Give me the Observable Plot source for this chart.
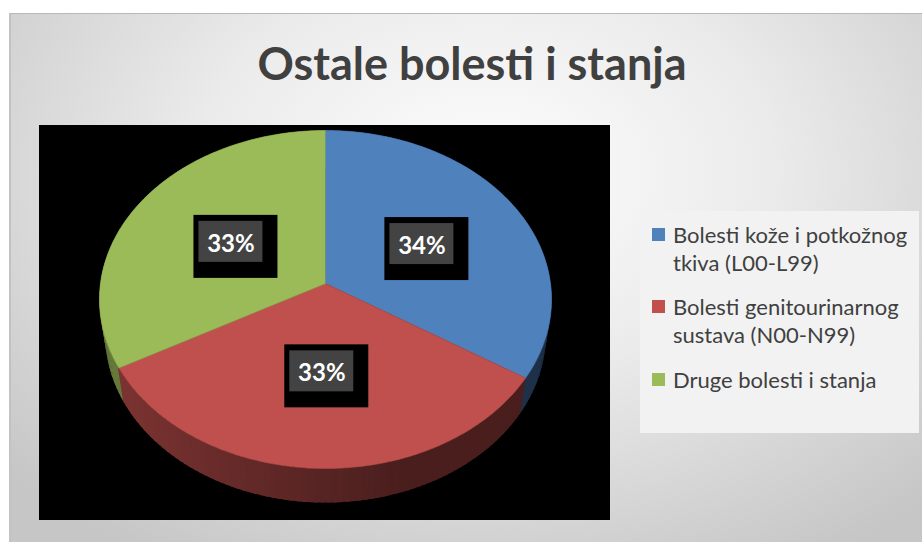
<!DOCTYPE html>
<html>
<head>
<meta charset="utf-8">
<script src="https://cdn.jsdelivr.net/npm/d3@7"></script>
<script src="https://cdn.jsdelivr.net/npm/@observablehq/plot@0.6"></script>
<style>
  html, body { margin: 0; padding: 0; width: 922px; height: 542px; overflow: hidden; background: #ffffff; font-family: Lato, "Open Sans", sans-serif; }
  #panel { position: absolute; left: 9px; top: 13px; width: 913px; height: 529px; box-sizing: border-box;
    background: radial-gradient(ellipse 70% 85% at 52% 30%, #fdfdfd 0%, #ebebeb 45%, #c6c6c6 100%);
    border-top: 1px solid #b8b8b8; border-left: 2px solid #c2c2c2; }
  #title { position: absolute; left: 11px; top: 41px; width: 922px; text-align: center; font-weight: 700; font-size: 45px; line-height: 45px; color: #404040; white-space: nowrap; }
  #plot { position: absolute; left: 39px; top: 125px; width: 571px; height: 395px; background: #000000; }
  #plot svg { display: block; overflow: visible; }
  #legend { position: absolute; left: 640px; top: 211px; width: 279px; height: 222px; background: #f2f2f2; }
  .item { position: absolute; left: 12px; width: 266px; font-size: 22px; line-height: 28px; color: #404040; white-space: nowrap; }
  .sw { position: absolute; left: 0; top: 7px; width: 13px; height: 13px; }
  .txt { margin-left: 21px; }
</style>
</head>
<body>
<div id="panel"></div>
<div id="title">Ostale bolesti i stanja</div>
<div id="plot"></div>
<div id="legend"></div>
<script>
// ---- data ----
const categories = [
  "Bolesti kože i potkožnog tkiva (L00-L99)",
  "Bolesti genitourinarnog sustava (N00-N99)",
  "Druge bolesti i stanja"
];
const values = [34, 33, 33];
const percentLabels = ["34%", "33%", "33%"];
const legendLines = [
  ["Bolesti kože i potkožnog", "tkiva (L00-L99)"],
  ["Bolesti genitourinarnog", "sustava (N00-N99)"],
  ["Druge bolesti i stanja"]
];
const sliceColors = ["#4F81BD", "#C0504D", "#9BBB59"];

// ---- 3D perspective projection of a tilted disc ----
const TILT = 48.1 * Math.PI / 180, S = Math.sin(TILT), C = Math.cos(TILT), D = 7.06, H = 0.243;
const DEG = Math.PI / 180;
function project(theta, r, h) {
  const u = r * Math.sin(theta), v = -r * Math.cos(theta);
  const yc = v * S + h * C, zc = D - v * C + h * S;
  return [D * u / zc, D * yc / zc];
}
function sideColor(i, theta) {
  const f = Math.max(0.38, Math.min(0.72, 0.45 - 0.22 * Math.sin(theta)));
  const c = d3.rgb(sliceColors[i]);
  return d3.rgb(c.r * f, c.g * f, c.b * f).formatHex();
}

const arcs = d3.pie().sort(null).value(d => d)(values);

// top faces
const topPts = [];
arcs.forEach((a, i) => {
  const n = Math.max(2, Math.ceil((a.endAngle - a.startAngle) / DEG));
  const [hx, hy] = project(0, 0, 0);
  topPts.push({key: "t" + i, x: hx, y: hy, fill: sliceColors[i]});
  for (let j = 0; j <= n; j++) {
    const t = a.startAngle + (a.endAngle - a.startAngle) * j / n;
    const [x, y] = project(t, 1, 0);
    topPts.push({key: "t" + i, x, y, fill: sliceColors[i]});
  }
});

// side walls, split in small overlapping quads, painted far to near
const segs = [];
arcs.forEach((a, i) => {
  const n = Math.max(2, Math.ceil((a.endAngle - a.startAngle) / (1.5 * DEG)));
  for (let j = 0; j < n; j++) {
    const t0 = a.startAngle + (a.endAngle - a.startAngle) * j / n;
    const t1 = Math.min(a.startAngle + (a.endAngle - a.startAngle) * (j + 1) / n + 0.8 * DEG, 2 * Math.PI);
    const tm = (t0 + t1) / 2;
    const fill = sideColor(i, tm);
    const key = "w" + i + "-" + j;
    const pts = [];
    for (let k = 0; k <= 3; k++) pts.push(project(t0 + (t1 - t0) * k / 3, 1, 0));
    for (let k = 3; k >= 0; k--) pts.push(project(t0 + (t1 - t0) * k / 3, 1, H));
    segs.push({depth: -Math.cos(tm), pts: pts.map(([x, y]) => ({key, x, y, fill}))});
  }
});
segs.sort((p, q) => p.depth - q.depth);
const wallPts = segs.flatMap(s => s.pts);

// data labels
const labelData = arcs.map((a, i) => {
  const [x, y] = project((a.startAngle + a.endAngle) / 2, 0.5, 0);
  return {x, y, label: percentLabels[i], category: categories[i]};
});

const chart = Plot.plot({
  width: 571,
  height: 395,
  margin: 0,
  x: {type: "linear", domain: [-1, 1], range: [61, 511], axis: null},
  y: {type: "linear", domain: [-1, 1], range: [-67, 383], axis: null},
  color: {type: "identity"},
  style: {background: "transparent", overflow: "visible"},
  marks: [
    Plot.line(wallPts, {x: "x", y: "y", z: "key", fill: "fill", stroke: "none", curve: "linear"}),
    Plot.line(topPts, {x: "x", y: "y", z: "key", fill: "fill", stroke: "fill", strokeWidth: 0.6, curve: "linear"}),
    Plot.rect(labelData, {x1: "x", x2: "x", y1: "y", y2: "y", fill: "#000000",
      insetLeft: -37, insetRight: -47, insetTop: -26.5, insetBottom: -36.5}),
    Plot.rect(labelData, {x1: "x", x2: "x", y1: "y", y2: "y", fill: "#434343",
      insetLeft: -32, insetRight: -32, insetTop: -20.5, insetBottom: -20.5}),
    Plot.text(labelData, {x: "x", y: "y", text: "label", fill: "#ffffff", fontSize: 24, fontWeight: "bold",
      fontFamily: "Lato, sans-serif", dy: 2})
  ]
});
document.getElementById("plot").appendChild(chart);

// legend
const legend = document.getElementById("legend");
const tops = [10, 82, 155];
legendLines.forEach((lines, i) => {
  const item = document.createElement("div");
  item.className = "item";
  item.style.top = tops[i] + "px";
  const sw = document.createElement("div");
  sw.className = "sw";
  sw.style.background = sliceColors[i];
  item.appendChild(sw);
  const txt = document.createElement("div");
  txt.className = "txt";
  txt.innerHTML = lines.join("<br>");
  item.appendChild(txt);
  legend.appendChild(item);
});
</script>
</body>
</html>
